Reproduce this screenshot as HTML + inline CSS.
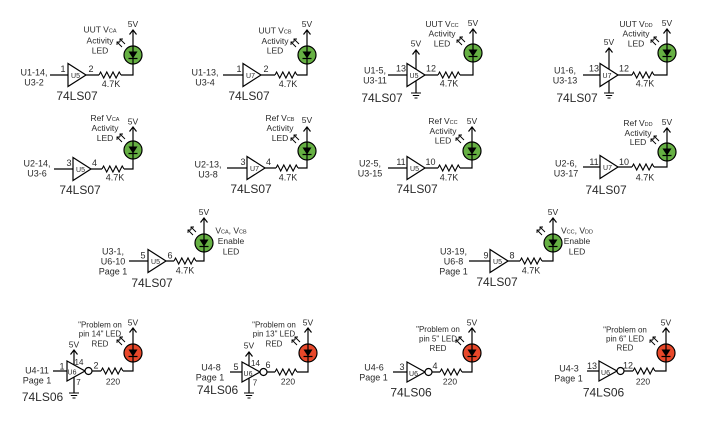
<!DOCTYPE html>
<html><head><meta charset="utf-8"><style>
html,body{margin:0;padding:0;background:#fff;}
svg{display:block;}
text{font-family:"Liberation Sans",sans-serif;fill:#2a2a2a;text-anchor:middle;}
.s{font-size:9px;}
.m{font-size:8.5px;}
.p{font-size:9px;}
.u{font-size:7px;}
.b{font-size:12px;}
.r{font-size:8px;}
</style></head><body>
<svg width="703" height="422" viewBox="0 0 703 422" xmlns="http://www.w3.org/2000/svg" xmlns:xlink="http://www.w3.org/1999/xlink">
<defs>
<g id="arr"><path d="M-8,-11L-13,-16M-13,-13L-13,-16L-10,-16M-11,-8L-16,-13M-16,-10L-16,-13L-13,-13" fill="none" stroke="#000" stroke-width="0.9"/></g>
<g id="ledg"><use href="#arr" xlink:href="#arr"/><circle r="9" fill="#66b043" stroke="#000" stroke-width="1.2"/><path d="M0,-9V9M-4.5,3.5H4.5" stroke="#000" stroke-width="1.2"/><path d="M-4.5,-3.5H4.5L0,3.5Z" fill="#000"/></g>
<g id="ledr"><use href="#arr" xlink:href="#arr"/><circle r="9" fill="#e8482a" stroke="#000" stroke-width="1.2"/><path d="M0,-9V9M-4.5,3.5H4.5" stroke="#000" stroke-width="1.2"/><path d="M-4.5,-3.5H4.5L0,3.5Z" fill="#000"/></g>
<path id="res" d="M0,0L1.6,-3L4.7,3L7.8,-3L10.9,3L14,-3L17.1,3L20.2,-3L22,0" fill="none" stroke="#000" stroke-width="1.1"/>
<polyline id="up" points="-3.5,4.5 0,0 3.5,4.5" fill="none" stroke="#000" stroke-width="1.2"/>
<path id="gnd" d="M-5,0H5M-3.2,2.5H3.2M-1.5,5H1.5" stroke="#000" stroke-width="1"/>
</defs>

<g fill="none" stroke="#000" stroke-width="1.2">
<!-- wires -->
<path d="M50,75H68M86,75H99M121,75H133V30"/>
<path d="M223,75H243M261,75H275M297,75H307V30"/>
<path d="M388,75H407M425,75H438M460,75H473V29M416,69V50M416,81V93"/>
<path d="M583,75H600M618,75H632M654,75H667V29M609,69V48M609,81V93"/>
<path d="M54,169H73M91,169H102M124,169H133V127"/>
<path d="M227,168H247M265,168H276M298,168H307V127"/>
<path d="M388,168H407M425,168H438M460,168H472V127"/>
<path d="M583,167H600M618,167H632M654,167H667V128"/>
<path d="M129,261H148M166,261H174M196,261H204V218"/>
<path d="M469,261H490M508,261H520M542,261H553V218"/>
<path d="M53,371H67M92,371H101M123,371H133V328M74,365V350M74,377V393"/>
<path d="M230,372H242M267,372H275M297,372H308V328M249,366V352M249,378V393"/>
<path d="M393,372H407M432,372H440M462,372H472V328"/>
<path d="M587,371H599M624,371H633M655,371H666V328"/>
</g>
<!-- triangles -->
<g fill="#fff" stroke="#000" stroke-width="1.2">
<polygon points="68,63.5 68,86.5 86,75"/>
<polygon points="243,63.5 243,86.5 261,75"/>
<polygon points="407,63.5 407,86.5 425,75"/>
<polygon points="600,63.5 600,86.5 618,75"/>
<polygon points="73,157.5 73,180.5 91,169"/>
<polygon points="247,156.5 247,179.5 265,168"/>
<polygon points="407,156.5 407,179.5 425,168"/>
<polygon points="600,155.5 600,178.5 618,167"/>
<polygon points="148,249.5 148,272.5 166,261"/>
<polygon points="490,249.5 490,272.5 508,261"/>
<polygon points="67,361 67,381 85,371"/><circle cx="88.5" cy="371" r="3.5"/>
<polygon points="242,362 242,382 260,372"/><circle cx="263.5" cy="372" r="3.5"/>
<polygon points="407,362 407,382 425,372"/><circle cx="428.5" cy="372" r="3.5"/>
<polygon points="599,361 599,381 617,371"/><circle cx="620.5" cy="371" r="3.5"/>
</g>
<!-- resistors -->
<use href="#res" xlink:href="#res" x="99" y="75"/>
<use href="#res" xlink:href="#res" x="275" y="75"/>
<use href="#res" xlink:href="#res" x="438" y="75"/>
<use href="#res" xlink:href="#res" x="632" y="75"/>
<use href="#res" xlink:href="#res" x="102" y="169"/>
<use href="#res" xlink:href="#res" x="276" y="168"/>
<use href="#res" xlink:href="#res" x="438" y="168"/>
<use href="#res" xlink:href="#res" x="632" y="167"/>
<use href="#res" xlink:href="#res" x="174" y="261"/>
<use href="#res" xlink:href="#res" x="520" y="261"/>
<use href="#res" xlink:href="#res" x="101" y="371"/>
<use href="#res" xlink:href="#res" x="275" y="372"/>
<use href="#res" xlink:href="#res" x="440" y="372"/>
<use href="#res" xlink:href="#res" x="633" y="371"/>
<!-- LEDs -->
<use href="#ledg" xlink:href="#ledg" x="133" y="55"/>
<use href="#ledg" xlink:href="#ledg" x="307" y="55"/>
<use href="#ledg" xlink:href="#ledg" x="473" y="53"/>
<use href="#ledg" xlink:href="#ledg" x="667" y="53"/>
<use href="#ledg" xlink:href="#ledg" x="133" y="150"/>
<use href="#ledg" xlink:href="#ledg" x="307" y="151"/>
<use href="#ledg" xlink:href="#ledg" x="472" y="151"/>
<use href="#ledg" xlink:href="#ledg" x="667" y="152"/>
<use href="#ledg" xlink:href="#ledg" x="204" y="243"/>
<use href="#ledg" xlink:href="#ledg" x="553" y="243"/>
<use href="#ledr" xlink:href="#ledr" x="133" y="353"/>
<use href="#ledr" xlink:href="#ledr" x="308" y="353"/>
<use href="#ledr" xlink:href="#ledr" x="472" y="353"/>
<use href="#ledr" xlink:href="#ledr" x="666" y="353"/>
<!-- up arrows -->
<use href="#up" xlink:href="#up" x="133" y="30"/>
<use href="#up" xlink:href="#up" x="307" y="30"/>
<use href="#up" xlink:href="#up" x="473" y="29"/>
<use href="#up" xlink:href="#up" x="667" y="29"/>
<use href="#up" xlink:href="#up" x="416" y="50"/>
<use href="#up" xlink:href="#up" x="609" y="48"/>
<use href="#up" xlink:href="#up" x="133" y="127"/>
<use href="#up" xlink:href="#up" x="307" y="127"/>
<use href="#up" xlink:href="#up" x="472" y="127"/>
<use href="#up" xlink:href="#up" x="667" y="128"/>
<use href="#up" xlink:href="#up" x="204" y="218"/>
<use href="#up" xlink:href="#up" x="553" y="218"/>
<use href="#up" xlink:href="#up" x="133" y="328"/>
<use href="#up" xlink:href="#up" x="308" y="328"/>
<use href="#up" xlink:href="#up" x="472" y="328"/>
<use href="#up" xlink:href="#up" x="666" y="328"/>
<use href="#up" xlink:href="#up" x="74" y="350"/>
<use href="#up" xlink:href="#up" x="249" y="352"/>
<!-- grounds -->
<use href="#gnd" xlink:href="#gnd" x="416" y="93"/>
<use href="#gnd" xlink:href="#gnd" x="609" y="93"/>
<use href="#gnd" xlink:href="#gnd" x="74" y="393"/>
<use href="#gnd" xlink:href="#gnd" x="249" y="393"/>

<!-- ===== Row 1 ===== -->
<text class="s" x="34" y="75.5">U1-14,</text><text class="s" x="34" y="85.5">U3-2</text>
<text class="p" x="63" y="72">1</text><text class="u" x="75.5" y="78">U5</text><text class="p" x="91" y="72">2</text>
<text class="s" x="111" y="87">4.7K</text>
<text class="m" x="133" y="27">5V</text>
<text class="m" x="100" y="32.5">UUT V<tspan font-size="5.5">CA</tspan></text><text class="m" x="100" y="43.5">Activity</text><text class="m" x="100" y="53.5">LED</text>
<text class="b" x="77" y="100">74LS07</text>

<text class="s" x="205" y="75.5">U1-13,</text><text class="s" x="205" y="85.5">U3-4</text>
<text class="p" x="239" y="72">1</text><text class="u" x="250.5" y="78">U7</text><text class="p" x="266" y="72">2</text>
<text class="s" x="288" y="87">4.7K</text>
<text class="m" x="307" y="27">5V</text>
<text class="m" x="275" y="33.5">UUT V<tspan font-size="5.5">CB</tspan></text><text class="m" x="275" y="44">Activity</text><text class="m" x="275" y="53.5">LED</text>
<text class="b" x="249" y="100">74LS07</text>

<text class="s" x="375" y="73.5">U1-5,</text><text class="s" x="375" y="83.5">U3-11</text>
<text class="p" x="401" y="71.5">13</text><text class="u" x="414" y="78">U5</text><text class="p" x="431" y="71.5">12</text>
<text class="m" x="416" y="46.5">5V</text>
<text class="s" x="449" y="86.5">4.7K</text>
<text class="m" x="473" y="26">5V</text>
<text class="m" x="442" y="27">UUT V<tspan font-size="5.5">CC</tspan></text><text class="m" x="442" y="36.5">Activity</text><text class="m" x="442" y="46.5">LED</text>
<text class="b" x="382" y="102">74LS07</text>

<text class="s" x="565" y="73.5">U1-6,</text><text class="s" x="565" y="83.5">U3-13</text>
<text class="p" x="594" y="71.5">13</text><text class="u" x="607" y="78">U7</text><text class="p" x="624" y="71.5">12</text>
<text class="m" x="609" y="45">5V</text>
<text class="s" x="645" y="86.5">4.7K</text>
<text class="m" x="667" y="26">5V</text>
<text class="m" x="636" y="27">UUT V<tspan font-size="5.5">DD</tspan></text><text class="m" x="636" y="36.5">Activity</text><text class="m" x="636" y="46.5">LED</text>
<text class="b" x="577" y="102">74LS07</text>

<!-- ===== Row 2 ===== -->
<text class="s" x="37" y="166.5">U2-14,</text><text class="s" x="37" y="176.5">U3-6</text>
<text class="p" x="69" y="166">3</text><text class="u" x="80.5" y="172">U5</text><text class="p" x="94.5" y="166">4</text>
<text class="s" x="115" y="180.5">4.7K</text>
<text class="m" x="133" y="124.5">5V</text>
<text class="m" x="105" y="121">Ref V<tspan font-size="5.5">CA</tspan></text><text class="m" x="105" y="131">Activity</text><text class="m" x="105" y="141">LED</text>
<text class="b" x="80" y="194">74LS07</text>

<text class="s" x="208" y="167.5">U2-13,</text><text class="s" x="208" y="177.5">U3-8</text>
<text class="p" x="243" y="165">3</text><text class="u" x="254.5" y="171">U7</text><text class="p" x="268.5" y="165">4</text>
<text class="s" x="288" y="180.5">4.7K</text>
<text class="m" x="307" y="123">5V</text>
<text class="m" x="280" y="121">Ref V<tspan font-size="5.5">CB</tspan></text><text class="m" x="280" y="131">Activity</text><text class="m" x="280" y="141">LED</text>
<text class="b" x="251" y="193">74LS07</text>

<text class="s" x="370" y="166.5">U2-5,</text><text class="s" x="370" y="176.5">U3-15</text>
<text class="p" x="401" y="165">11</text><text class="u" x="414.5" y="171">U5</text><text class="p" x="430.5" y="165">10</text>
<text class="s" x="449" y="180.5">4.7K</text>
<text class="m" x="472" y="124">5V</text>
<text class="m" x="443" y="124">Ref V<tspan font-size="5.5">CC</tspan></text><text class="m" x="443" y="134">Activity</text><text class="m" x="443" y="143.5">LED</text>
<text class="b" x="417" y="193">74LS07</text>

<text class="s" x="566" y="166.5">U2-6,</text><text class="s" x="566" y="176.5">U3-17</text>
<text class="p" x="594" y="165">11</text><text class="u" x="607.5" y="170">U7</text><text class="p" x="624" y="165">10</text>
<text class="s" x="645" y="180.5">4.7K</text>
<text class="m" x="667" y="125">5V</text>
<text class="m" x="638" y="126">Ref V<tspan font-size="5.5">DD</tspan></text><text class="m" x="638" y="136">Activity</text><text class="m" x="638" y="145">LED</text>
<text class="b" x="606" y="194">74LS07</text>

<!-- ===== Row 3 ===== -->
<text class="s" x="113" y="254.5">U3-1,</text><text class="s" x="113" y="264.5">U6-10</text><text class="s" x="113" y="274.5">Page 1</text>
<text class="p" x="143" y="258.5">5</text><text class="u" x="155.5" y="264">U5</text><text class="p" x="170" y="258.5">6</text>
<text class="s" x="185" y="273.5">4.7K</text>
<text class="m" x="204" y="215">5V</text>
<text class="m" x="231" y="233.5">V<tspan font-size="5.5">CA</tspan>, V<tspan font-size="5.5">CB</tspan></text><text class="m" x="231" y="244">Enable</text><text class="m" x="231" y="254.5">LED</text>
<text class="b" x="152" y="287">74LS07</text>

<text class="s" x="453.5" y="254.5">U3-19,</text><text class="s" x="453.5" y="264.5">U6-8</text><text class="s" x="453.5" y="274.5">Page 1</text>
<text class="p" x="486" y="258.5">9</text><text class="u" x="497.5" y="264">U5</text><text class="p" x="512" y="258.5">8</text>
<text class="s" x="531" y="273.5">4.7K</text>
<text class="m" x="553" y="215">5V</text>
<text class="m" x="577" y="233.5">V<tspan font-size="5.5">CC</tspan>, V<tspan font-size="5.5">DD</tspan></text><text class="m" x="577" y="244">Enable</text><text class="m" x="577" y="254.5">LED</text>
<text class="b" x="497" y="286">74LS07</text>

<!-- ===== Row 4 ===== -->
<text class="s" x="37" y="373.5">U4-11</text><text class="s" x="37" y="383.5">Page 1</text>
<text class="p" x="62" y="369.5">1</text><text class="r" x="79" y="365">14</text><text class="u" x="72" y="374.5">U6</text><text class="r" x="78.5" y="385">7</text><text class="p" x="96" y="368.5">2</text>
<text class="m" x="74" y="347.5">5V</text>
<text class="m" x="113" y="384.5">220</text>
<text class="m" x="133" y="325.5">5V</text>
<text class="r" x="100" y="327.5">"Problem on</text><text class="r" x="100" y="336.5">pin 14" LED</text><text class="r" x="100" y="346.5">RED</text>
<text class="b" x="42.5" y="401">74LS06</text>

<text class="s" x="211" y="370.5">U4-8</text><text class="s" x="210" y="380.5">Page 1</text>
<text class="p" x="236" y="370">5</text><text class="r" x="255.5" y="366">14</text><text class="u" x="248" y="376">U6</text><text class="r" x="255" y="385.5">7</text><text class="p" x="268" y="368">6</text>
<text class="m" x="249" y="348.5">5V</text>
<text class="m" x="288" y="384.5">220</text>
<text class="m" x="308" y="325.5">5V</text>
<text class="r" x="274" y="327.5">"Problem on</text><text class="r" x="274" y="336.5">pin 13" LED</text><text class="r" x="274" y="346.5">RED</text>
<text class="b" x="217.5" y="394">74LS06</text>

<text class="s" x="374" y="370.5">U4-6</text><text class="s" x="373.5" y="380.5">Page 1</text>
<text class="p" x="402" y="370">3</text><text class="u" x="413.5" y="376">U6</text><text class="p" x="435" y="369">4</text>
<text class="m" x="450" y="384.5">220</text>
<text class="m" x="472" y="325.5">5V</text>
<text class="r" x="438" y="332">"Problem on</text><text class="r" x="438" y="341.5">pin 5" LED</text><text class="r" x="438" y="351">RED</text>
<text class="b" x="411" y="396.5">74LS06</text>

<text class="s" x="569" y="371.5">U4-3</text><text class="s" x="568.5" y="381.5">Page 1</text>
<text class="p" x="592" y="369">13</text><text class="u" x="605.5" y="375">U6</text><text class="p" x="628" y="368.5">12</text>
<text class="m" x="643" y="384.5">220</text>
<text class="m" x="666" y="325.5">5V</text>
<text class="r" x="625" y="332.5">"Problem on</text><text class="r" x="625" y="341.5">pin 6" LED</text><text class="r" x="625" y="350.5">RED</text>
<text class="b" x="603.5" y="396.5">74LS06</text>
</svg>
</body></html>
